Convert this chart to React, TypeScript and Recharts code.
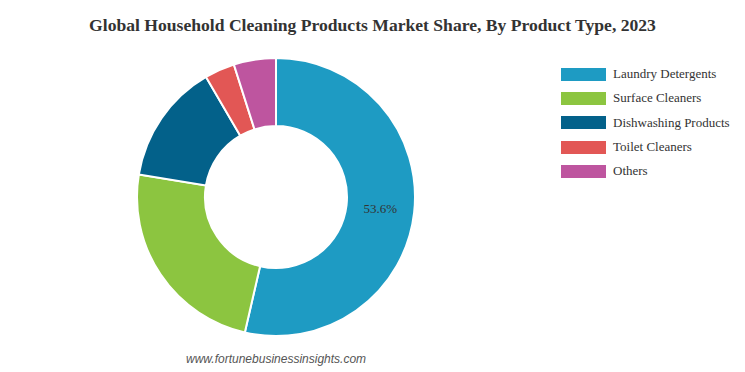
import { PieChart, Pie, Cell, Legend } from "recharts";

const categories = [
  "Laundry Detergents",
  "Surface Cleaners",
  "Dishwashing Products",
  "Toilet Cleaners",
  "Others",
];
const shares = [53.6, 24.0, 14.0, 3.5, 4.9];
const colors = ["#1e9bc3", "#8cc540", "#03618a", "#e25755", "#be559f"];

const data = categories.map((name, i) => ({ name, value: shares[i] }));

const RADIAN = Math.PI / 180;

const renderLabel = (props: any) => {
  const { cx, cy, midAngle, innerRadius, outerRadius, index, value } = props;
  if (index !== 0) return null;
  const r = (innerRadius + outerRadius) / 2;
  const x = cx + r * Math.cos(-midAngle * RADIAN);
  const y = cy + r * Math.sin(-midAngle * RADIAN);
  return (
    <text
      x={x}
      y={y}
      fill="#333"
      fontSize={13}
      fontFamily="'Liberation Serif', serif"
      textAnchor="middle"
      dominantBaseline="central"
    >
      {value.toFixed(1)}%
    </text>
  );
};

const renderLegend = () => (
  <div style={{ fontFamily: "'Liberation Serif', serif", fontSize: 13, color: "#333" }}>
    {categories.map((c, i) => (
      <div key={c} style={{ display: "flex", alignItems: "center", height: 24.3 }}>
        <span
          style={{
            display: "inline-block",
            width: 45,
            height: 13,
            background: colors[i],
            marginRight: 7,
          }}
        />
        {c}
      </div>
    ))}
  </div>
);

export default function App() {
  return (
    <div style={{ position: "absolute", left: 0, top: 0, width: 745, height: 372, background: "#fff" }}>
      <div
        style={{
          position: "absolute",
          top: 15,
          left: 0,
          width: 745,
          textAlign: "center",
          fontFamily: "'Liberation Serif', serif",
          fontWeight: "bold",
          fontSize: 17.6,
          color: "#333",
        }}
      >
        Global Household Cleaning Products Market Share, By Product Type, 2023
      </div>
      <PieChart width={745} height={372} margin={{ top: 0, right: 0, bottom: 0, left: 0 }}>
        <Pie
          data={data}
          dataKey="value"
          nameKey="name"
          cx={276}
          cy={197}
          innerRadius={71}
          outerRadius={139}
          startAngle={90}
          endAngle={-270}
          stroke="#fff"
          strokeWidth={2}
          label={renderLabel}
          labelLine={false}
          isAnimationActive={false}
        >
          {data.map((d, i) => (
            <Cell key={d.name} fill={colors[i]} />
          ))}
        </Pie>
        <Legend
          content={renderLegend}
          wrapperStyle={{ position: "absolute", top: 62, left: 561, width: 184 }}
        />
      </PieChart>
      <div
        style={{
          position: "absolute",
          top: 352,
          left: 186,
          fontFamily: "'Liberation Sans', Arial, sans-serif",
          fontStyle: "italic",
          fontSize: 12,
          color: "#555",
        }}
      >
        www.fortunebusinessinsights.com
      </div>
    </div>
  );
}
